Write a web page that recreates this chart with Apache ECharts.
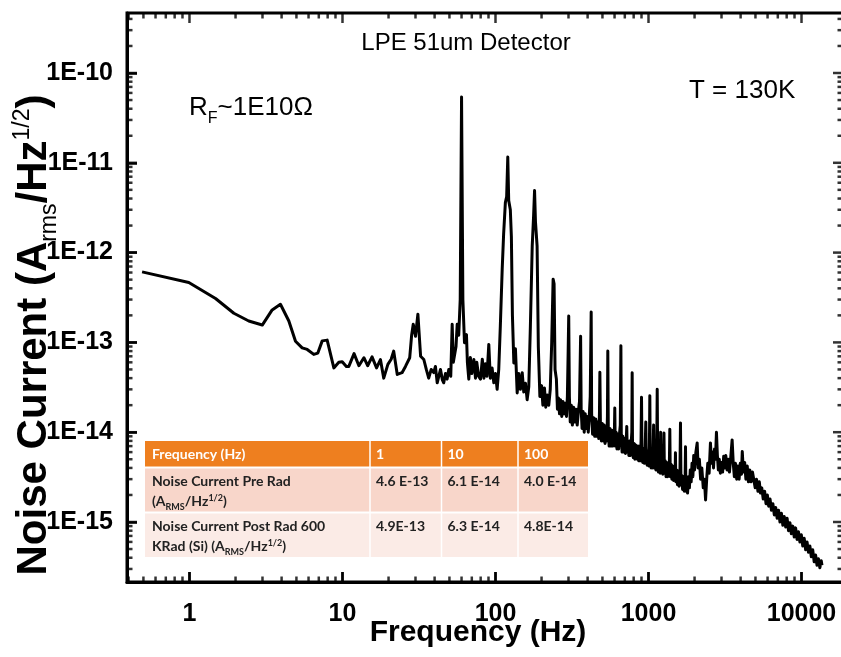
<!DOCTYPE html>
<html><head><meta charset="utf-8">
<script src="https://cdn.jsdelivr.net/npm/echarts@6/dist/echarts.min.js"></script>
<style>html,body{margin:0;padding:0;background:#fff}#c{width:841px;height:657px}</style>
</head><body><div id="c"></div>
<script>
(function () {
// ---------------- DATA (frequency Hz, noise current A/Hz^1/2) ----------------
const segLow = [
 [0.49,6.1e-13],[0.99,4.65e-13],[1.48,3.08e-13],[1.95,2.11e-13],[2.44,1.73e-13],[2.99,1.56e-13],
 [3.47,2.3e-13],[3.93,2.66e-13],[4.46,1.73e-13],[4.93,1.03e-13],[5.45,8.7e-14],[5.88,8.35e-14],
 [6.49,7.35e-14],[6.9,7.6e-14],[7.37,1.04e-13],[7.94,1.06e-13],[8.78,5.2e-14],[9.46,6.0e-14],
 [9.96,6.1e-14],[10.6,5.4e-14],[11.0,5.4e-14],[11.9,7.5e-14],[12.8,5.5e-14],[13.8,6.75e-14],
 [14.6,5.5e-14],[15.6,6.9e-14],[16.7,5.2e-14],[17.7,6.45e-14],[18.6,4.0e-14],[19.8,5.7e-14],
 [20.8,6.5e-14],[21.6,8.0e-14],[22.8,4.4e-14],[24.5,4.6e-14],[25.8,5.4e-14],[27.5,6.75e-14],
 [28.3,1.2e-13],[29.0,1.59e-13],[30.0,1.17e-13],[31.1,2.06e-13],[32.4,7.0e-14],[34.0,6.45e-14],
 [35.3,5.0e-14],[36.6,4.0e-14],[38.0,5.0e-14],[39.5,4.6e-14],[40.5,5.4e-14],[41.6,3.55e-14],
 [43.7,5.0e-14],[45.0,3.8e-14],[45.9,3.55e-14],[47.1,4.5e-14],[48.3,3.9e-14],[49.5,5.0e-14]
];
const segMains = [
 [51.0,4.2e-14],[52.1,1.59e-13],[53.0,6.0e-14],[54.0,5.9e-14],[55.2,9e-14],[56.2,1.59e-13],
 [57.5,1.2e-13],[58.8,3.0e-13],[60.0,5.4e-11],[61.2,3.0e-13],[62.7,9.9e-14],[64.6,1.22e-13],
 [65.5,6e-14],[66.9,3.9e-14],[68.5,6.8e-14],[70.0,4.5e-14],[72.2,6.45e-14],[74.0,4.0e-14],
 [75.5,6.0e-14],[77.5,4.2e-14],[79.8,3.9e-14],[82.0,6.5e-14],[84.0,4.0e-14],[86.0,5.8e-14],
 [88.0,4.2e-14],[90.4,9.5e-14],[92.5,4.0e-14],[95.0,5.2e-14],[97.5,3.55e-14],[100.0,4.5e-14],
 [102.5,3.0e-14],[105.0,5.0e-14],[107.5,1.5e-13],[110.6,6.5e-13],[113.0,1.6e-12],[116.0,3.6e-12],
 [118.3,4.2e-12],[120.3,1.16e-11],[122.0,3.8e-12],[125.0,3.0e-12],[127.0,1.5e-12],[129.0,2.0e-13],
 [131.8,5.9e-14],[135.0,8.5e-14],[138.6,2.74e-14],[142.0,4.5e-14],[145.5,3.0e-14],[149.5,4.6e-14],
 [153.0,2.8e-14],[157.0,3.5e-14],[161.0,2.3e-14],[165.0,3.2e-14],[169.0,1.5e-13],[173.8,1.19e-12],
 [177.5,2.6e-12],[180.0,4.9e-12],[182.5,2.2e-12],[187.0,1.19e-12],[190.5,9e-14],[195.0,2.5e-14],
 [200.0,3.3e-14],[204.0,2.0e-14],[209.0,3.1e-14],[213.0,1.9e-14],[218.0,2.6e-14],[223.0,2.0e-14],
 [228.0,3.0e-14],[233.0,1.0e-13],[238.0,5.06e-13],[241.5,4.5e-13],[245.0,5.0e-14],[250.0,3.9e-14],
 [254.0,1.8e-14],[258.0,2.4e-14],[262.0,1.6e-14],[266.0,2.3e-14],[271.0,1.5e-14],[276.0,2.2e-14],
 [281.0,1.6e-14],[286.0,2.1e-14],[291.0,1.5e-14],[295.0,2.5e-14],[298.5,8e-14],[301.0,1.97e-13],
 [304.0,2.5e-14]
];
const segHarmonics = [
 [308,1.3e-14],[313,2.0e-14],[318,1.2e-14],[324,1.9e-14],[330,1.3e-14],[336,1.8e-14],[342,1.2e-14],
 [348,1.7e-14],[354,2.2e-14],[360,1.17e-13],[363,1.8e-14],[368,1.1e-14],[374,1.7e-14],[380,1.0e-14],
 [386,1.6e-14],[392,1.1e-14],[398,1.5e-14],[404,1.0e-14],[410,1.5e-14],[416,2.5e-14],[422,2.18e-13],
 [425,1.6e-14],[431,9.5e-15],[438,1.45e-14],[445,9.0e-15],[452,1.4e-14],[459,9.0e-15],[466,1.3e-14],
 [473,8.5e-15],[478,1.6e-14],[481,4.65e-14],[485,1.2e-14],[492,8.0e-15],[499,1.25e-14],[506,8.0e-15],
 [513,1.2e-14],[520,7.5e-15],[527,1.15e-14],[534,8.0e-15],[539,1.5e-14],[542,8.0e-14],[546,1.1e-14],
 [553,7.0e-15],[560,1.1e-14],[568,7.0e-15],[576,1.05e-14],[584,7.0e-15],[592,1.0e-14],[599,1.1e-14],
 [602,1.86e-14],[606,7.0e-15],[614,1.0e-14],[622,6.5e-15],[630,9.5e-15],[638,6.5e-15],[646,9.5e-15],
 [654,1.2e-14],[660,9.2e-14],[664,9.0e-15],[672,6.0e-15],[680,9.0e-15],[689,6.0e-15],[698,8.5e-15],
 [707,5.8e-15],[716,8.5e-15],[721,1.16e-14],[726,6.0e-15],[735,8.0e-15],[744,5.5e-15],[753,8.0e-15],
 [762,5.5e-15],[772,8.0e-15],[778,1.0e-14],[782,4.6e-14],[786,7.5e-15],[795,5.2e-15],[805,7.5e-15],
 [815,5.0e-15],[825,7.2e-15],[834,5.5e-15],[839,6.9e-15],[844,5.0e-15],[854,7.0e-15],[864,4.8e-15],
 [874,7.0e-15],[884,4.8e-15],[894,8.0e-15],[900,2.45e-14],[906,6.5e-15],[917,4.6e-15],[928,6.5e-15],
 [940,4.5e-15],[952,7.0e-15],[960,1.3e-14],[968,5.0e-15],[980,4.3e-15],[992,6.2e-15],[1004,4.2e-15],
 [1014,7.0e-15],[1020,2.55e-14],[1026,5.5e-15],[1040,4.0e-15],[1053,6.0e-15],[1066,4.0e-15],
 [1080,1.2e-14],[1090,4.0e-15],[1104,5.5e-15],[1118,3.8e-15],[1132,6.0e-15],[1140,3.0e-14],
 [1148,5.0e-15],[1162,3.6e-15],[1177,5.3e-15],[1192,3.5e-15],[1200,1.0e-14],[1210,3.6e-15],
 [1225,5.0e-15],[1240,3.4e-15],[1255,5.0e-15],[1262,9.8e-15],[1270,3.5e-15],[1286,4.8e-15],
 [1302,3.2e-15],[1318,4.6e-15],[1334,3.2e-15],[1350,4.5e-15],[1366,3.3e-15],[1378,1.08e-14],
 [1388,3.2e-15],[1405,4.4e-15],[1422,3.0e-15],[1440,4.2e-15],[1458,2.9e-15],[1476,4.0e-15],
 [1492,3.0e-15],[1500,5.9e-15],[1508,2.8e-15],[1527,3.8e-15],[1546,2.6e-15],[1565,3.7e-15],
 [1585,2.5e-15],[1605,3.5e-15],[1618,1.27e-14],[1630,2.6e-15],[1650,3.3e-15],[1670,2.3e-15],
 [1690,3.2e-15],[1712,2.2e-15],[1735,3.0e-15],[1745,6.9e-15],[1755,2.2e-15],[1778,2.9e-15],[1800,2.1e-15]
];
const segHigh = [
 [1825,3.2e-15],[1850,2.4e-15],[1875,3.8e-15],[1900,2.8e-15],[1925,4.5e-15],[1950,3.2e-15],
 [1975,5.5e-15],[2000,3.8e-15],[2040,6.0e-15],[2080,7.6e-15],[2110,4.0e-15],[2150,5.0e-15],
 [2190,3.0e-15],[2230,4.0e-15],[2280,2.4e-15],[2320,3.0e-15],[2360,1.76e-15],[2400,3.0e-15],
 [2440,4.5e-15],[2490,3.5e-15],[2540,7.6e-15],[2580,4.5e-15],[2620,6.0e-15],[2660,4.0e-15],
 [2700,6.5e-15],[2740,5.0e-15],[2780,1.0e-14],[2820,5.5e-15],[2860,3.8e-15],[2900,5.0e-15],
 [2950,3.5e-15],[3000,4.6e-15],[3050,3.6e-15],[3100,5.4e-15],[3150,4.0e-15],[3200,5.5e-15],
 [3260,3.8e-15],[3320,5.0e-15],[3380,3.6e-15],[3440,5.0e-15],[3520,8.2e-15],[3580,4.5e-15],
 [3640,3.2e-15],[3700,4.5e-15],[3770,3.0e-15],[3840,4.2e-15],[3910,3.0e-15],[3980,4.5e-15],
 [4050,3.4e-15],[4100,6.1e-15],[4170,3.6e-15],[4250,4.6e-15],[4330,3.0e-15],[4420,4.2e-15],
 [4500,2.8e-15],[4590,3.8e-15],[4680,2.8e-15],[4780,3.6e-15],[4880,3.5e-15],[4980,2.4e-15],
 [5080,3.0e-15],[5190,2.2e-15],[5300,2.8e-15],[5390,2.1e-15],[5500,2.4e-15],[5620,1.8e-15],
 [5740,2.2e-15],[5860,1.6e-15],[5980,2.0e-15],[6100,1.5e-15],[6230,1.8e-15],[6360,1.35e-15],
 [6500,1.6e-15],[6640,1.2e-15],[6780,1.45e-15],[6930,1.1e-15],[7080,1.35e-15],[7230,1.0e-15],
 [7390,1.25e-15],[7550,9.2e-16],[7710,1.15e-15],[7880,8.8e-16],[8050,1.1e-15],[8220,8.0e-16],
 [8400,9.8e-16],[8580,7.4e-16],[8770,9.0e-16],[8960,6.8e-16],[9150,8.6e-16],[9350,6.4e-16],
 [9550,7.8e-16],[9760,6.0e-16],[9970,7.2e-16],[10190,5.4e-16],[10410,6.6e-16],[10640,4.9e-16],
 [10870,6.0e-16],[11100,4.6e-16],[11340,5.4e-16],[11590,4.1e-16],[11840,4.9e-16],[12100,3.6e-16],
 [12360,4.3e-16],[12630,3.3e-16],[12900,3.9e-16],[13180,3.1e-16],[13460,3.7e-16],[13600,3.3e-16]
];

const xMajorTicks = [1, 10, 100, 1000, 10000];
const yMajorTicks = [1e-15, 1e-14, 1e-13, 1e-12, 1e-11, 1e-10];

const tableHeader = ['Frequency (Hz)', '1', '10', '100'];
const tablePreLabel = ['Noise Current Pre Rad', '(A{sub|RMS}/Hz{sup|1/2})'];
const tablePre = ['4.6 E-13', '6.1 E-14', '4.0 E-14'];
const tablePostLabel = ['Noise Current Post Rad 600', 'KRad (Si) (A{sub|RMS}/Hz{sup|1/2})'];
const tablePost = ['4.9E-13', '6.3 E-14', '4.8E-14'];

// ---------------- helpers ----------------
function minorTicks(d0, d1) {
  const out = [];
  for (let d = d0; d <= d1; d++) for (let m = 2; m <= 9; m++) out.push(parseFloat((m * Math.pow(10, d)).toPrecision(3)));
  return out;
}
const X_MIN = 0.3905, X_MAX = 18670, Y_MIN = 2.147e-16, Y_MAX = 4.658e-10;
const xMinorTicks = minorTicks(-1, 4).filter(v => v > X_MIN && v < X_MAX);
const yMinorTicks = minorTicks(-16, -10).filter(v => v > Y_MIN && v < Y_MAX);
const GRID = { left: 127, top: 13, width: 716, height: 569 };
const ARIAL = '"Liberation Sans", Arial, sans-serif';
const TBL = 'Lato, "Open Sans", sans-serif';
const TICK_MAJOR = 10, TICK_MINOR = 5.5, TICK_W = 2.5;

// tick marks: small rect symbols placed on the axes through the chart's scales, pushed inward
const tickData = [];
function xTick(v, len, bottomToo) {
  if (bottomToo) tickData.push({ value: [v, Y_MIN], symbolSize: [TICK_W, len], symbolOffset: [0, -len / 2] });
  tickData.push({ value: [v, Y_MAX], symbolSize: [TICK_W, len], symbolOffset: [0, len / 2] });
}
function yTick(v, len, leftToo) {
  if (leftToo) tickData.push({ value: [X_MIN, v], symbolSize: [len, TICK_W], symbolOffset: [len / 2, 0] });
  tickData.push({ value: [X_MAX, v], symbolSize: [len, TICK_W], symbolOffset: [-len / 2, 0] });
}
xMajorTicks.forEach(v => xTick(v, TICK_MAJOR, true));
xMinorTicks.forEach(v => xTick(v, TICK_MINOR, true));
yMajorTicks.forEach(v => yTick(v, TICK_MAJOR, true));
yMinorTicks.forEach(v => yTick(v, TICK_MINOR, true));

// table graphic
const colX = [145, 370, 441.5, 518, 588];
const rowY = [441, 466.5, 468.5, 511.5, 513.5, 557];
const tbl = [];
tbl.push({ type: 'rect', shape: { x: colX[0], y: rowY[0], width: colX[4] - colX[0], height: rowY[1] - rowY[0] }, style: { fill: '#EE7F1F' } });
tbl.push({ type: 'rect', shape: { x: colX[0], y: rowY[2], width: colX[4] - colX[0], height: rowY[3] - rowY[2] }, style: { fill: '#F8D6CA' } });
tbl.push({ type: 'rect', shape: { x: colX[0], y: rowY[4], width: colX[4] - colX[0], height: rowY[5] - rowY[4] }, style: { fill: '#FBEBE6' } });
for (let i = 1; i < 4; i++) {
  tbl.push({ type: 'rect', shape: { x: colX[i] - 0.75, y: rowY[0], width: 1.5, height: rowY[5] - rowY[0] }, style: { fill: '#FFFFFF' } });
}
const cellText = (txt, x, y, color, rich) => ({
  type: 'text', x: x, y: y,
  style: { text: txt, fill: color, font: 'bold 14px ' + TBL, textAlign: 'left', textVerticalAlign: 'middle',
    rich: rich ? {
      sub: { fontSize: 9, fontWeight: 'bold', fontFamily: TBL, fill: color, verticalAlign: 'bottom', lineHeight: 9, padding: [0, 0, -4, 0] },
      sup: { fontSize: 9, fontWeight: 'bold', fontFamily: TBL, fill: color, verticalAlign: 'top', lineHeight: 9 }
    } : undefined }
});
tbl.push(cellText(tableHeader[0], colX[0] + 7, 454, '#FFFFFF'));
for (let i = 1; i < 4; i++) tbl.push(cellText(tableHeader[i], colX[i] + 6, 454, '#FFFFFF'));
tbl.push(cellText(tablePreLabel[0], colX[0] + 7, 481, '#222222'));
tbl.push(cellText(tablePreLabel[1], colX[0] + 7, 501, '#222222', true));
for (let i = 0; i < 3; i++) tbl.push(cellText(tablePre[i], colX[i + 1] + 6, 481, '#222222'));
tbl.push(cellText(tablePostLabel[0], colX[0] + 7, 526, '#222222'));
tbl.push(cellText(tablePostLabel[1], colX[0] + 7, 546, '#222222', true));
for (let i = 0; i < 3; i++) tbl.push(cellText(tablePost[i], colX[i + 1] + 6, 526, '#222222'));

const chart = echarts.init(document.getElementById('c'), null, { renderer: 'canvas' });
chart.setOption({
  animation: false,
  grid: { left: GRID.left, top: GRID.top, width: GRID.width, height: GRID.height, outerBoundsMode: 'none',
    show: true, borderColor: '#000', borderWidth: 3, backgroundColor: 'transparent' },
  xAxis: [{
    type: 'log', min: X_MIN, max: X_MAX,
    axisLine: { onZero: false, lineStyle: { color: '#000', width: 3 } },
    axisTick: { inside: true, length: TICK_MAJOR, lineStyle: { color: '#000', width: TICK_W } },
    axisLabel: { showMinLabel: false, showMaxLabel: false, margin: 20, color: '#000',
      fontFamily: ARIAL, fontWeight: 'bold', fontSize: 25,
      formatter: v => String(Math.round(v)) },
    splitLine: { show: false }
  }],
  yAxis: [{
    type: 'log', min: Y_MIN, max: Y_MAX,
    axisLine: { onZero: false, lineStyle: { color: '#000', width: 3 } },
    axisTick: { inside: true, length: TICK_MAJOR, lineStyle: { color: '#000', width: TICK_W } },
    axisLabel: { showMinLabel: false, showMaxLabel: false, margin: 14, color: '#000',
      fontFamily: ARIAL, fontWeight: 'bold', fontSize: 25,
      formatter: v => '1E' + Math.round(Math.log10(v)) },
    splitLine: { show: false }
  }],
  series: [{
    type: 'line',
    data: segLow.concat(segMains, segHarmonics, segHigh),
    showSymbol: false,
    lineStyle: { color: '#000', width: 3, join: 'round' }
  }, {
    type: 'scatter', data: tickData, symbol: 'rect', symbolSize: 10,
    itemStyle: { color: '#000' }, clip: false
  }],
  graphic: [
    { type: 'text', x: 466, y: 43, style: { text: 'LPE 51um Detector', font: '24px ' + ARIAL, fill: '#000', textAlign: 'center', textVerticalAlign: 'middle' } },
    { type: 'text', x: 689, y: 91, style: { text: 'T = 130K', font: '26px ' + ARIAL, fill: '#000', textAlign: 'left', textVerticalAlign: 'middle' } },
    { type: 'text', x: 189, y: 108, style: { text: '{a|R}{s|F}{a|~1E10Ω}', textAlign: 'left', textVerticalAlign: 'middle',
        rich: { a: { fontSize: 26, fontFamily: ARIAL, fill: '#000', lineHeight: 30 },
                s: { fontSize: 16, fontFamily: ARIAL, fill: '#000', verticalAlign: 'bottom', lineHeight: 15, padding: [0, 0, -4, 0] } } } },
    { type: 'text', x: 478, y: 633, style: { text: 'Frequency (Hz)', font: 'bold 30px ' + ARIAL, fill: '#000', textAlign: 'center', textVerticalAlign: 'middle' } },
    { type: 'text', x: 34, y: 335, rotation: Math.PI / 2, style: { text: '{b|Noise Current (A}{s|rms}{b|/Hz}{p|1/2}{b|)}', textAlign: 'center', textVerticalAlign: 'middle',
        rich: { b: { fontSize: 42, fontWeight: 'bold', fontFamily: ARIAL, fill: '#000', lineHeight: 46 },
                s: { fontSize: 23, fontFamily: ARIAL, fill: '#000', verticalAlign: 'bottom', lineHeight: 23, padding: [0, 0, -4, 0] },
                p: { fontSize: 23, fontFamily: ARIAL, fill: '#000', verticalAlign: 'top', lineHeight: 23 } } } },
    { type: 'group', children: tbl }
  ]
});
})();
</script>
</body></html>
